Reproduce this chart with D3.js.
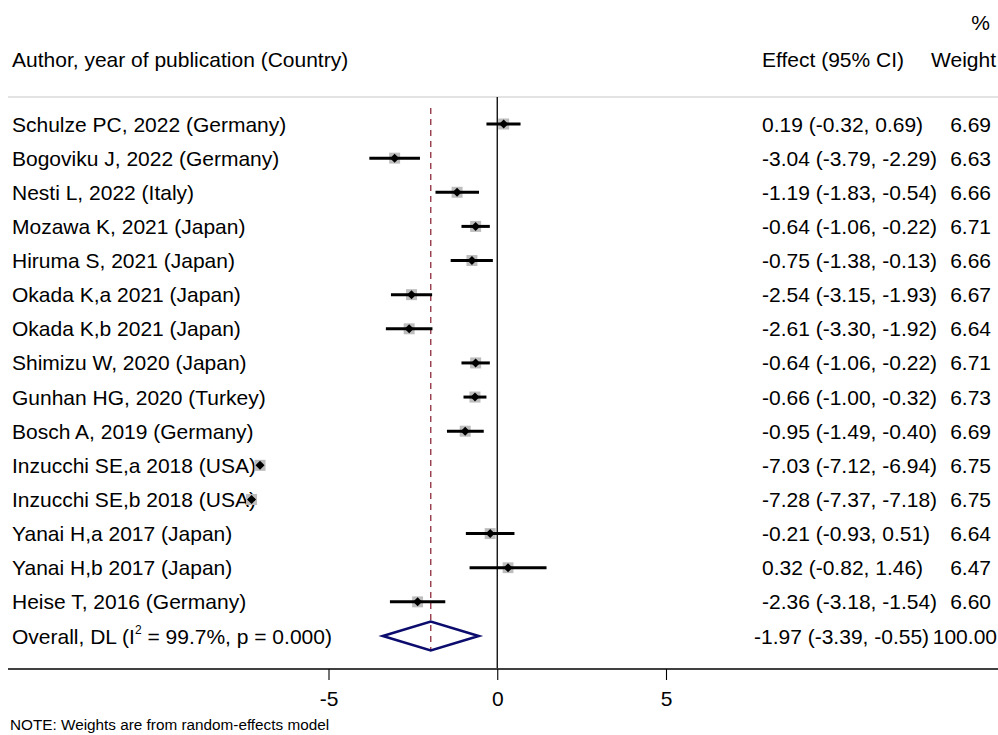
<!DOCTYPE html>
<html>
<head>
<meta charset="utf-8">
<script src="https://cdn.jsdelivr.net/npm/d3@7"></script>
<style>
  html, body { margin: 0; padding: 0; background: #fff; }
  text { font-family: "Liberation Sans", Arial, Helvetica, sans-serif; fill: #000; }
</style>
</head>
<body>
<svg id="chart" width="998" height="735"></svg>
<script>
// ---- data ----
const studies = [
  "Schulze PC, 2022 (Germany)",
  "Bogoviku J, 2022 (Germany)",
  "Nesti L, 2022 (Italy)",
  "Mozawa K, 2021 (Japan)",
  "Hiruma S, 2021 (Japan)",
  "Okada K,a 2021 (Japan)",
  "Okada K,b 2021 (Japan)",
  "Shimizu W, 2020 (Japan)",
  "Gunhan HG, 2020 (Turkey)",
  "Bosch A, 2019 (Germany)",
  "Inzucchi SE,a 2018 (USA)",
  "Inzucchi SE,b 2018 (USA)",
  "Yanai H,a 2017 (Japan)",
  "Yanai H,b 2017 (Japan)",
  "Heise T, 2016 (Germany)"
];
const effects = [0.19, -3.04, -1.19, -0.64, -0.75, -2.54, -2.61, -0.64, -0.66, -0.95, -7.03, -7.28, -0.21, 0.32, -2.36];
const lower   = [-0.32, -3.79, -1.83, -1.06, -1.38, -3.15, -3.30, -1.06, -1.00, -1.49, -7.12, -7.37, -0.93, -0.82, -3.18];
const upper   = [0.69, -2.29, -0.54, -0.22, -0.13, -1.93, -1.92, -0.22, -0.32, -0.40, -6.94, -7.18, 0.51, 1.46, -1.54];
const weights = [6.69, 6.63, 6.66, 6.71, 6.66, 6.67, 6.64, 6.71, 6.73, 6.69, 6.75, 6.75, 6.64, 6.47, 6.60];
const overall = { es: -1.97, lci: -3.39, uci: -0.55, weight: 100.00, i2: "99.7%", p: "0.000" };
const xTicks = [-5, 0, 5];

// ---- layout ----
const svg = d3.select("#chart");
const x = d3.scaleLinear().domain([-5, 5]).range([328.5, 666]);
const y = d3.scaleLinear().domain([0, 15]).range([124, 636]);
const f2v = d3.format(".2f");
const f2 = v => f2v(v).replace("\u2212", "-");
const fs = 21;
const base = 7.5;

// header
svg.append("text").attr("x", 12).attr("y", 67).attr("font-size", fs).text("Author, year of publication (Country)");
svg.append("text").attr("x", 762).attr("y", 67).attr("font-size", fs).text("Effect (95% CI)");
svg.append("text").attr("x", 996).attr("y", 67).attr("font-size", fs).attr("text-anchor", "end").text("Weight");
svg.append("text").attr("x", 990).attr("y", 30).attr("font-size", fs).attr("text-anchor", "end").text("%");

// top rule
svg.append("line").attr("x1", 8).attr("x2", 998).attr("y1", 97).attr("y2", 97)
  .attr("stroke", "#c8c8c8").attr("stroke-width", 1.2);

// zero line
svg.append("line").attr("x1", x(0)).attr("x2", x(0)).attr("y1", 97).attr("y2", 668)
  .attr("stroke", "#000").attr("stroke-width", 1.3);

// overall dashed line
svg.append("line").attr("x1", x(overall.es)).attr("x2", x(overall.es))
  .attr("y1", 108).attr("y2", 650)
  .attr("stroke", "#8f2a3a").attr("stroke-width", 1.3).attr("stroke-dasharray", "6,5");

// study rows
const g = svg.append("g");
studies.forEach((s, i) => {
  const yy = y(i);
  g.append("text").attr("x", 12).attr("y", yy + base).attr("font-size", fs).text(s);
  // weight box
  const side = 11 * Math.sqrt(weights[i] / 6.7);
  g.append("rect").attr("x", x(effects[i]) - side / 2).attr("y", yy - side / 2)
    .attr("width", side).attr("height", side).attr("fill", "#bdbdbd");
  // CI
  g.append("line").attr("x1", x(lower[i])).attr("x2", x(upper[i])).attr("y1", yy).attr("y2", yy)
    .attr("stroke", "#000").attr("stroke-width", 3);
  // point diamond
  const d = 4.5;
  const px = x(effects[i]);
  g.append("path").attr("d", `M${px - d},${yy}L${px},${yy - d}L${px + d},${yy}L${px},${yy + d}Z`).attr("fill", "#000");
  // texts
  g.append("text").attr("x", 762).attr("y", yy + base).attr("font-size", fs)
    .text(`${f2(effects[i])} (${f2(lower[i])}, ${f2(upper[i])})`);
  g.append("text").attr("x", 991).attr("y", yy + base).attr("font-size", fs).attr("text-anchor", "end")
    .text(f2(weights[i]));
});

// overall row
const yo = y(15);
const ot = svg.append("text").attr("x", 12).attr("y", yo + base).attr("font-size", fs);
ot.append("tspan").text("Overall, DL (I");
ot.append("tspan").attr("font-size", 12).attr("dy", -10).text("2");
ot.append("tspan").attr("dy", 10).text(` = ${overall.i2}, p = ${overall.p})`);
svg.append("path")
  .attr("d", `M${x(overall.lci)},${yo}L${x(overall.es)},${yo - 14.5}L${x(overall.uci)},${yo}L${x(overall.es)},${yo + 14.5}Z`)
  .attr("fill", "none").attr("stroke", "#0c0c6e").attr("stroke-width", 2.6);
svg.append("text").attr("x", 754).attr("y", yo + base).attr("font-size", fs)
  .text(`${f2(overall.es)} (${f2(overall.lci)}, ${f2(overall.uci)})`);
svg.append("text").attr("x", 997).attr("y", yo + base).attr("font-size", fs).attr("text-anchor", "end")
  .text(f2(overall.weight));

// x axis
const axisG = svg.append("g").attr("transform", "translate(0,669)");
axisG.append("line").attr("x1", 8).attr("x2", 998).attr("y1", 0).attr("y2", 0)
  .attr("stroke", "#000").attr("stroke-width", 1.3);
const axis = d3.axisBottom(x).tickValues(xTicks).tickSize(11).tickPadding(11)
  .tickFormat(v => d3.format("d")(v).replace("\u2212", "-"));
axisG.call(axis);
axisG.select(".domain").remove();
axisG.selectAll(".tick line").attr("stroke", "#000").attr("stroke-width", 1.1);
axisG.selectAll(".tick text").attr("font-size", fs).attr("font-family", "\"Liberation Sans\", Arial, sans-serif").attr("fill", "#000");

// note
svg.append("text").attr("x", 10).attr("y", 730).attr("font-size", 15.3)
  .text("NOTE: Weights are from random-effects model");
</script>
</body>
</html>
